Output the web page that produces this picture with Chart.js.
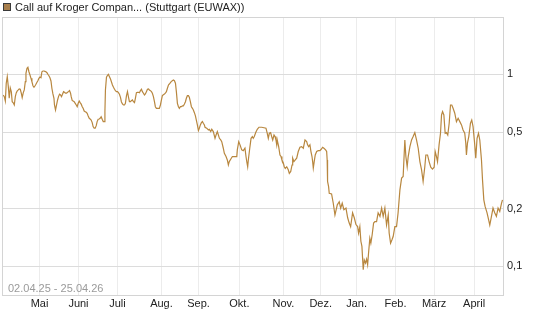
<!DOCTYPE html>
<html>
<head>
<meta charset="utf-8">
<script src="https://cdn.jsdelivr.net/npm/chart.js@4/dist/chart.umd.min.js"></script>
<style>
  html, body { margin: 0; padding: 0; background: #ffffff; }
  canvas { display: block; }
</style>
</head>
<body>
<canvas id="c" width="545" height="327"></canvas>
<script>
// ---- data ----
const seriesTitle = "Call auf Kroger Compan... (Stuttgart (EUWAX))";
const dateRangeText = "02.04.25 - 25.04.26";

const monthLabels = ["Mai","Juni","Juli","Aug.","Sep.","Okt.","Nov.","Dez.","Jan.","Feb.","März","April"];
const monthPositions = [29.1, 59.1, 89.2, 123.1, 151.7, 183.2, 217.1, 245.9, 273.6, 303.6, 333.4, 364.2];

const yTickValues = [0.1, 0.2, 0.5, 1];
const yTickLabels = ["0,1", "0,2", "0,5", "1"];

const dayIndex = [
1.1,1.9,2.7,3.4,4.2,5.0,5.7,6.5,7.3,8.0,8.8,9.6,10.4,11.1,11.9,12.7,13.4,14.2,15.0,15.7,
16.5,17.3,18.1,18.6,19.4,20.1,20.9,21.7,22.5,23.2,24.0,24.8,25.5,26.3,27.1,27.8,28.6,29.4,30.2,30.9,
31.7,32.5,33.2,34.0,34.8,35.5,36.3,37.1,37.9,38.6,39.4,40.2,40.6,41.4,42.2,43.0,43.7,44.5,45.3,46.0,
46.8,47.6,48.3,49.1,49.9,50.7,51.4,52.2,53.0,53.5,54.3,55.0,55.8,56.6,57.4,58.1,58.9,59.7,60.4,61.2,
62.0,62.7,63.5,64.3,65.1,65.8,66.6,67.4,68.1,68.9,69.7,70.4,71.2,72.0,72.8,73.5,74.3,75.1,75.8,76.6,
77.4,78.2,78.9,79.5,79.9,80.7,81.5,82.2,83.0,83.8,84.5,85.3,86.1,86.9,87.6,88.4,89.2,89.9,90.7,91.5,
92.2,93.0,93.8,94.6,95.3,96.1,96.9,97.6,98.4,99.2,99.9,100.7,101.5,102.3,103.0,103.8,104.6,105.3,106.1,106.9,
107.7,108.4,109.2,110.0,110.7,111.5,112.3,113.1,113.8,114.6,115.4,116.1,116.9,117.7,118.4,119.2,120.0,120.8,121.5,122.3,
123.1,123.8,124.6,125.4,126.1,126.9,127.7,128.5,129.2,130.0,130.8,131.5,132.3,133.1,133.9,134.6,135.4,136.2,136.9,137.7,
138.5,139.2,140.0,140.8,141.6,142.3,143.1,143.9,144.6,145.4,146.2,147.0,147.7,148.5,149.3,150.0,150.8,151.6,152.3,153.1,
153.9,154.7,155.4,156.2,156.7,158.0,159.3,160.0,161.1,161.9,163.1,164.4,165.2,166.2,167.0,167.8,168.8,169.6,170.8,171.6,
172.9,173.9,174.7,175.4,176.5,177.8,179.8,181.2,181.6,182.7,183.7,185.0,186.2,187.5,188.3,188.9,189.6,190.1,191.2,192.2,
193.2,193.9,194.7,195.8,197.0,198.3,200.4,202.2,203.7,204.7,205.5,206.3,207.3,208.1,208.9,209.9,210.7,211.4,212.0,212.4,
213.5,214.5,215.3,216.0,217.1,217.8,218.6,219.7,220.9,221.7,222.8,223.8,224.3,225.3,226.3,227.4,228.6,229.9,231.2,232.5,
233.8,235.1,235.8,236.6,237.6,238.4,239.2,239.7,240.2,240.9,241.7,242.8,244.0,245.3,246.3,247.4,248.4,249.7,250.5,250.9,
251.2,252.0,252.5,254.3,255.6,256.9,258.7,260.2,261.3,262.5,263.8,265.4,266.7,267.9,269.0,270.5,271.8,273.1,274.4,275.1,
276.1,276.9,277.7,278.7,279.5,280.5,281.3,282.1,282.8,283.8,284.6,285.6,286.7,287.7,289.0,290.2,291.6,292.9,294.1,295.4,
296.7,298.0,298.7,299.8,300.8,301.8,303.1,304.4,305.6,307.0,308.3,309.5,310.8,311.6,312.6,313.4,314.7,316.0,317.2,318.5,
319.8,321.1,322.4,323.7,324.9,326.2,327.0,328.3,329.5,330.8,332.1,333.4,334.2,335.2,336.0,337.2,338.3,339.1,339.9,340.9,
341.9,342.9,343.9,345.0,346.0,347.0,348.0,349.3,350.6,351.9,353.2,354.5,355.7,357.0,357.8,358.3,359.1,360.1,361.4,362.4,
363.4,364.5,365.5,366.5,367.6,368.6,369.9,370.7,371.7,372.7,374.2,375.3,376.3,377.6,378.8,380.1,381.4,382.7,384.0,385.3,
386.1
];

const callValue = [
0.780,0.765,0.726,0.898,0.972,0.862,0.750,0.849,0.812,0.720,0.710,0.692,0.765,0.800,0.819,0.829,0.839,0.836,0.797,0.756,
0.800,0.829,0.915,1.012,1.074,1.087,1.031,0.992,0.953,0.915,0.872,0.856,0.869,0.887,0.909,0.926,0.953,0.968,0.960,1.031,
1.040,1.040,1.036,1.031,1.019,1.000,0.983,0.960,0.923,0.846,0.790,0.750,0.692,0.652,0.692,0.735,0.765,0.787,0.780,0.765,
0.787,0.812,0.806,0.797,0.797,0.806,0.812,0.822,0.797,0.765,0.729,0.726,0.720,0.706,0.692,0.678,0.706,0.726,0.712,0.699,
0.678,0.665,0.644,0.639,0.634,0.626,0.607,0.590,0.585,0.578,0.560,0.534,0.524,0.524,0.540,0.567,0.583,0.585,0.590,0.601,
0.583,0.567,0.567,0.639,0.829,0.965,0.988,1.000,0.972,0.945,0.915,0.880,0.856,0.836,0.822,0.812,0.812,0.802,0.787,0.759,
0.720,0.701,0.692,0.692,0.706,0.771,0.812,0.765,0.720,0.720,0.729,0.735,0.720,0.712,0.750,0.802,0.806,0.806,0.802,0.822,
0.836,0.812,0.797,0.780,0.790,0.812,0.836,0.839,0.829,0.822,0.812,0.797,0.765,0.720,0.678,0.665,0.665,0.665,0.665,0.692,
0.735,0.774,0.783,0.790,0.797,0.812,0.846,0.880,0.890,0.904,0.919,0.926,0.934,0.926,0.898,0.812,0.706,0.678,0.665,0.678,
0.678,0.684,0.684,0.701,0.720,0.750,0.774,0.774,0.759,0.720,0.678,0.665,0.652,0.631,0.607,0.578,0.545,0.509,0.524,0.545,
0.560,0.567,0.556,0.545,0.530,0.524,0.513,0.517,0.503,0.517,0.503,0.464,0.483,0.503,0.483,0.464,0.455,0.446,0.412,0.388,
0.373,0.358,0.337,0.351,0.361,0.373,0.373,0.373,0.404,0.446,0.429,0.404,0.400,0.412,0.373,0.351,0.330,0.358,0.412,0.464,
0.474,0.464,0.474,0.497,0.517,0.530,0.530,0.527,0.524,0.493,0.464,0.493,0.497,0.474,0.455,0.483,0.474,0.455,0.429,0.455,
0.420,0.380,0.373,0.358,0.345,0.330,0.323,0.330,0.318,0.305,0.312,0.337,0.366,0.351,0.358,0.366,0.396,0.417,0.420,0.412,
0.455,0.446,0.429,0.420,0.429,0.396,0.373,0.351,0.325,0.351,0.380,0.396,0.400,0.400,0.407,0.417,0.412,0.404,0.396,0.358,
0.277,0.260,0.240,0.238,0.213,0.185,0.209,0.217,0.201,0.213,0.197,0.201,0.179,0.168,0.161,0.190,0.179,0.165,0.161,0.149,
0.161,0.135,0.127,0.096,0.108,0.104,0.109,0.102,0.117,0.140,0.132,0.146,0.168,0.171,0.171,0.190,0.182,0.201,0.182,0.201,
0.164,0.185,0.149,0.132,0.137,0.143,0.161,0.161,0.190,0.250,0.288,0.294,0.455,0.373,0.330,0.373,0.420,0.455,0.474,0.497,
0.455,0.412,0.351,0.318,0.277,0.330,0.380,0.380,0.351,0.328,0.321,0.328,0.396,0.373,0.351,0.429,0.493,0.614,0.639,0.614,
0.493,0.497,0.483,0.556,0.692,0.692,0.665,0.627,0.567,0.590,0.567,0.545,0.513,0.493,0.438,0.380,0.438,0.474,0.556,0.578,
0.534,0.446,0.366,0.464,0.493,0.455,0.358,0.282,0.222,0.205,0.190,0.176,0.164,0.182,0.201,0.190,0.182,0.201,0.193,0.212,
0.222
];

// ---- chart ----
const LINE_COLOR = '#b8873f';
const FONT = '"Liberation Sans", Arial, sans-serif';

const points = dayIndex.map((d, i) => ({ x: d, y: callValue[i] }));

const framePlugin = {
  id: 'frame',
  beforeDatasetsDraw(chart) {
    const { ctx, chartArea: a } = chart;
    ctx.save();
    ctx.strokeStyle = '#d4d4d4';
    ctx.lineWidth = 1;
    const l = Math.round(a.left) - 0.5, r = Math.round(a.right) + 0.5;
    const t = Math.round(a.top) - 0.5, b = Math.round(a.bottom) + 0.5;
    ctx.strokeRect(l, t, r - l, b - t);
    ctx.restore();
  },
  afterDraw(chart) {
    const { ctx, chartArea: a } = chart;
    ctx.save();
    // legend-like title
    ctx.fillStyle = '#a87f4d';
    ctx.fillRect(3, 3, 8, 8);
    ctx.strokeStyle = '#3a3a3a';
    ctx.lineWidth = 1;
    ctx.strokeRect(3.5, 3.5, 7, 7);
    ctx.fillStyle = '#222222';
    ctx.font = '11px ' + FONT;
    ctx.textBaseline = 'middle';
    ctx.textAlign = 'left';
    ctx.fillText(seriesTitle, 15, 7.5);
    // date range inside plot
    ctx.fillStyle = '#9a9a9a';
    ctx.fillText(dateRangeText, a.left + 5, a.bottom - 6.5);
    ctx.restore();
  }
};

new Chart(document.getElementById('c'), {
  type: 'line',
  data: {
    datasets: [{
      data: points,
      borderColor: LINE_COLOR,
      borderWidth: 1.2,
      pointRadius: 0,
      tension: 0,
      fill: false
    }]
  },
  options: {
    responsive: false,
    animation: false,
    devicePixelRatio: 1,
    parsing: false,
    layout: { padding: { top: 18, left: 3, right: 0, bottom: 0 } },
    plugins: { legend: { display: false }, tooltip: { enabled: false } },
    scales: {
      x: {
        type: 'linear',
        min: 0.9,
        max: 386.5,
        afterBuildTicks: s => { s.ticks = monthPositions.map(v => ({ value: v })); },
        afterFit: s => { s.height = 32; },
        ticks: {
          autoSkip: false,
          maxRotation: 0,
          padding: 2,
          color: '#222222',
          font: { family: FONT, size: 11 },
          callback: (v, i) => monthLabels[i]
        },
        grid: { color: '#ececec', drawTicks: false },
        border: { display: false }
      },
      y: {
        type: 'logarithmic',
        position: 'right',
        min: 0.0709,
        max: 1.964,
        afterBuildTicks: s => { s.ticks = yTickValues.map(v => ({ value: v })); },
        afterFit: s => { s.width = 42; },
        ticks: {
          padding: 4,
          color: '#222222',
          font: { family: FONT, size: 11 },
          callback: (v, i) => yTickLabels[i]
        },
        grid: { color: '#dcdcdc', drawTicks: false },
        border: { display: false }
      }
    }
  },
  plugins: [framePlugin]
});
</script>
</body>
</html>
